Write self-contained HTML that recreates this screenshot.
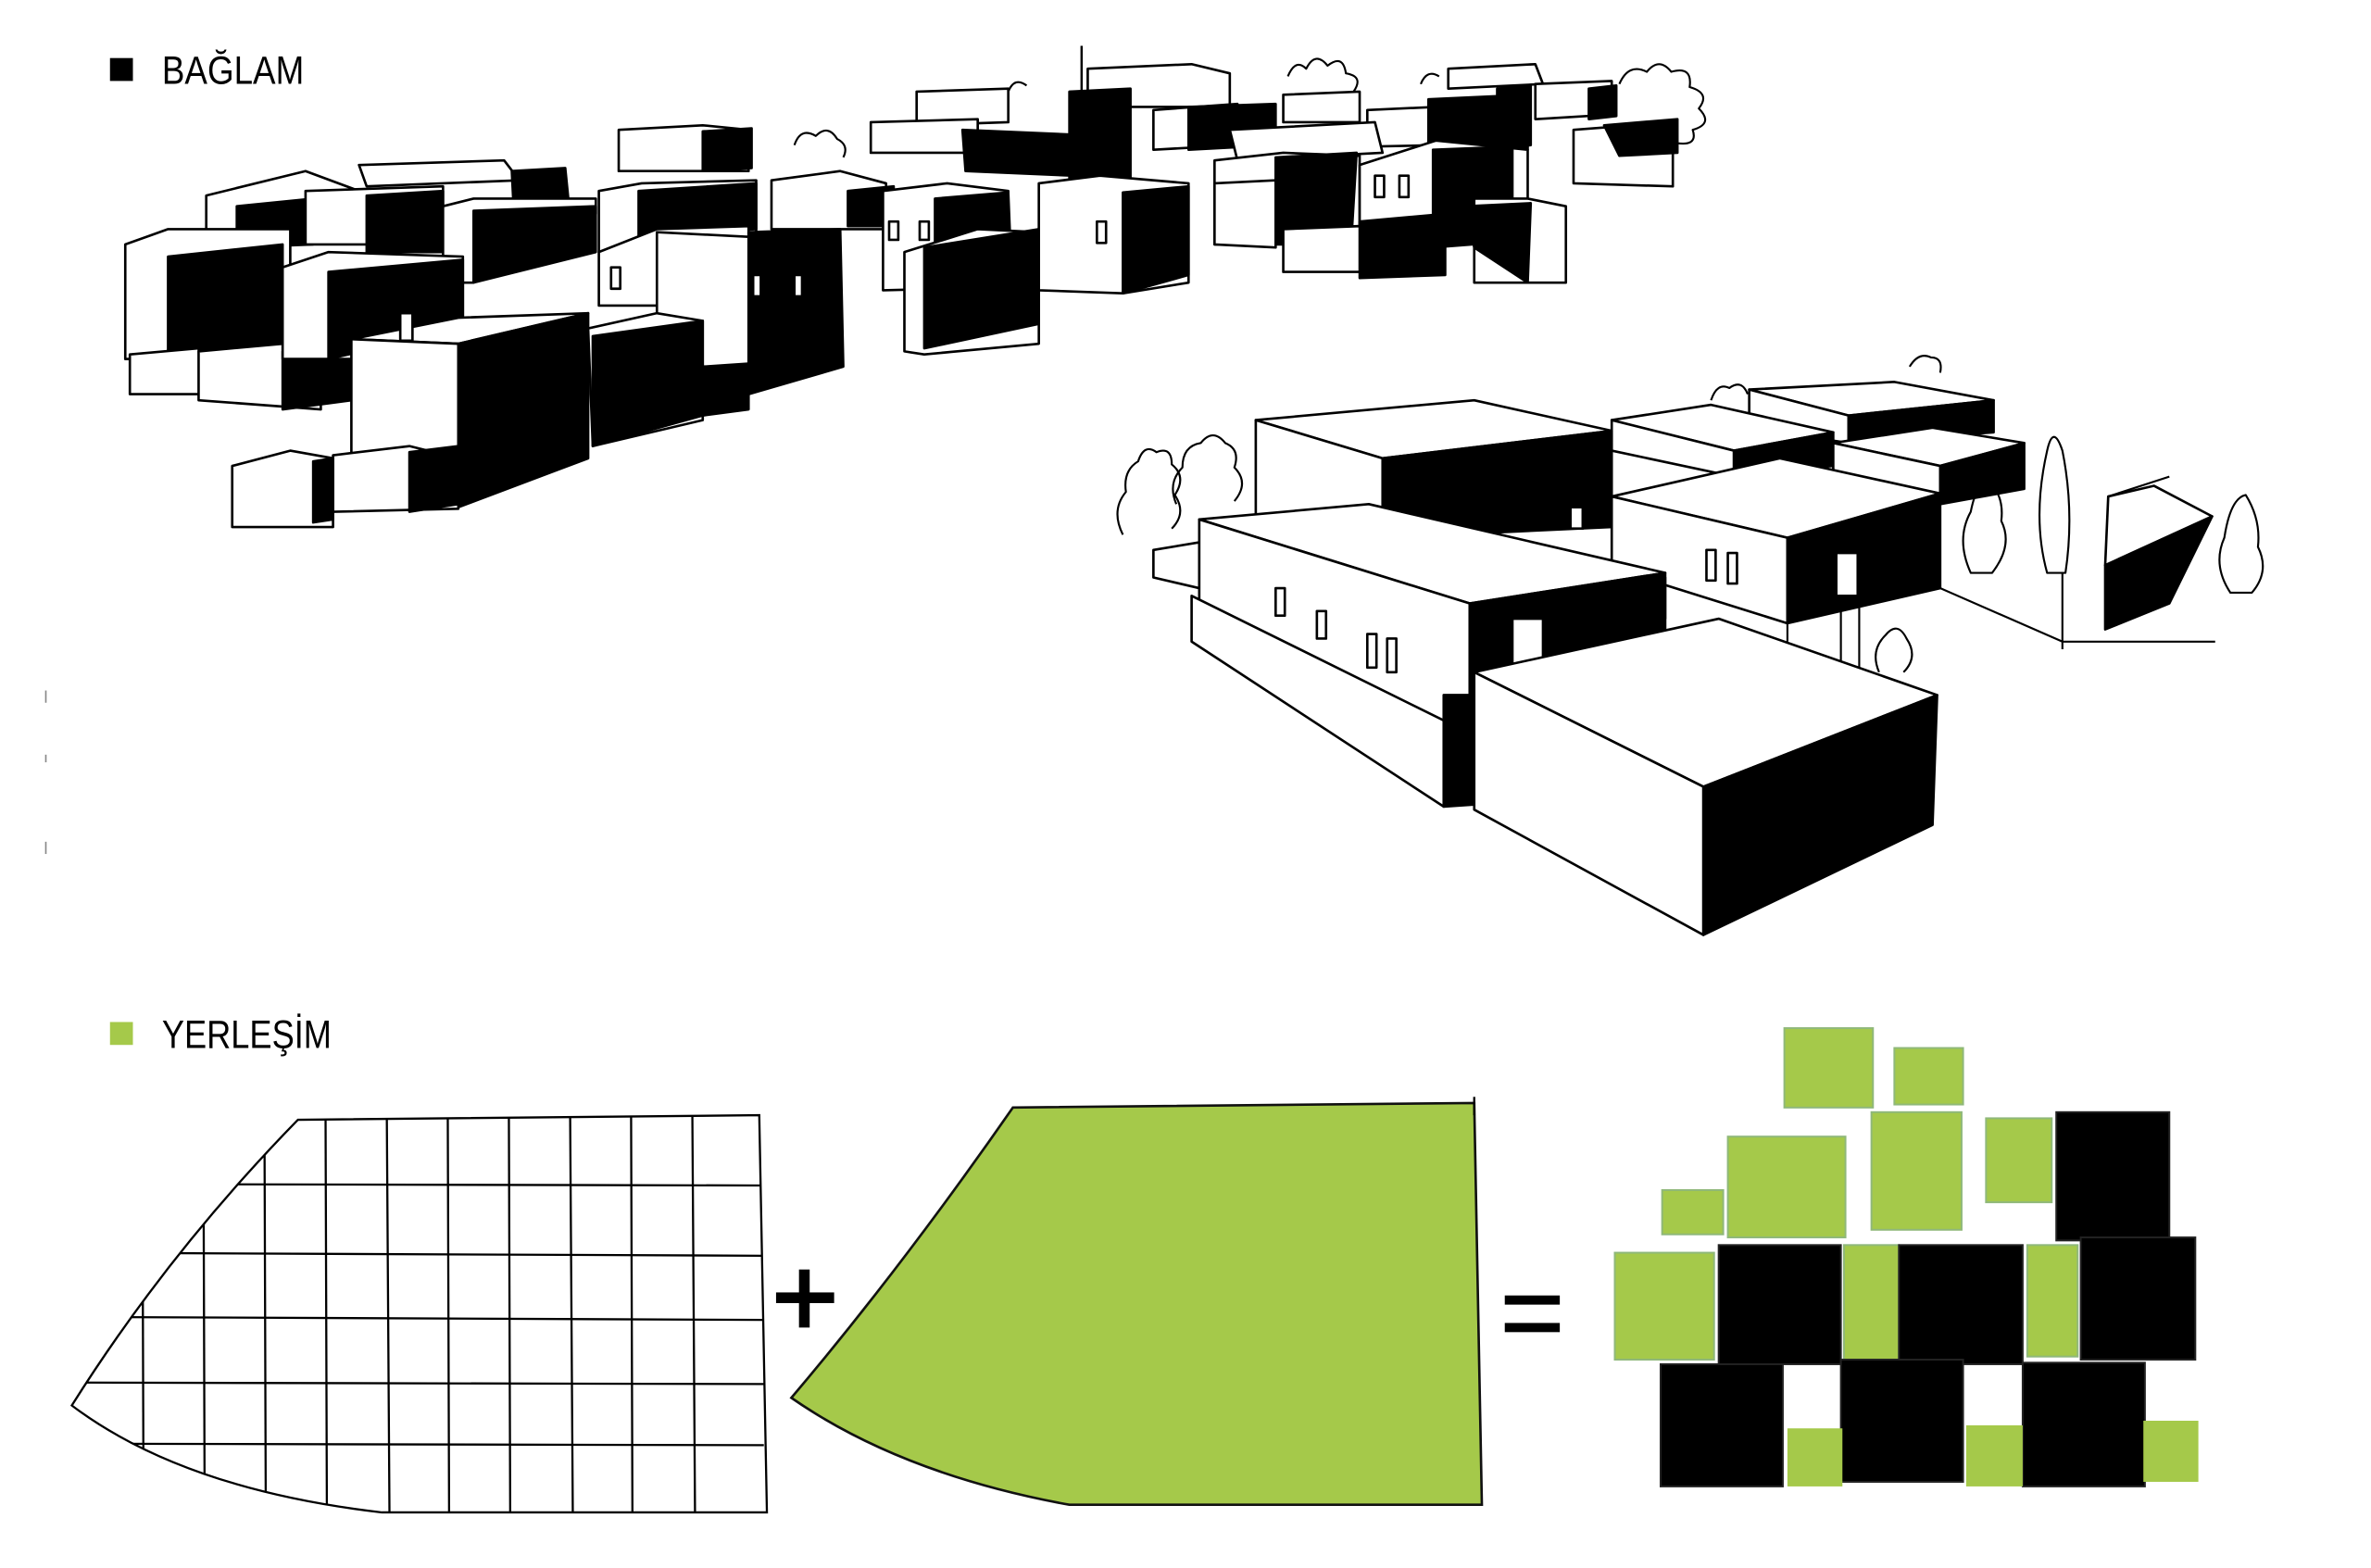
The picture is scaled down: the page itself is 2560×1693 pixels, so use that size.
<!DOCTYPE html>
<html><head><meta charset="utf-8"><style>
html,body{margin:0;padding:0;background:#fff}
svg{display:block}
.w{fill:#fff;stroke:#000;stroke-width:1.6;stroke-linejoin:round}
.b{fill:#000;stroke:#000;stroke-width:1.6;stroke-linejoin:round}
.l{fill:none;stroke:#000;stroke-width:1.3;stroke-linejoin:round}
.g{fill:#a5c94a}
.gs{fill:#a5c94a;stroke:#8fb87a;stroke-width:1.2}
.k{fill:#000;stroke:#222;stroke-width:1.2}
</style></head><body>
<svg width="2560" height="1693" viewBox="0 0 1552 1026.4" preserveAspectRatio="none" xmlns="http://www.w3.org/2000/svg">
<rect x="0" y="0" width="1552" height="1027" fill="#fff"/>
<!-- headers -->
<rect x="72" y="38" width="15" height="15" fill="#000"/>
<text x="106" y="55" font-family="Liberation Sans, sans-serif" font-size="26" textLength="93" lengthAdjust="spacingAndGlyphs" fill="#000">BAĞLAM</text>
<rect x="72" y="669" width="15" height="15" fill="#a5c94a"/>
<text x="106" y="686" font-family="Liberation Sans, sans-serif" font-size="26" textLength="111" lengthAdjust="spacingAndGlyphs" fill="#000">YERLEŞİM</text>
<line x1="30" y1="452" x2="30" y2="460" stroke="#888" stroke-width="1"/>
<line x1="30" y1="494" x2="30" y2="499" stroke="#888" stroke-width="1"/>
<line x1="30" y1="551" x2="30" y2="559" stroke="#888" stroke-width="1"/>

<!-- ========== TOP CLUSTER ========== -->
<!-- background row -->
<path class="l" d="M843,50 q5,-12 12,-5 q6,-12 14,-2 q10,-8 12,5 q12,2 5,12 q8,8 -4,14 q4,10 -10,8 M1060,55 q6,-14 18,-8 q8,-10 16,0 q14,-4 12,10 q14,4 6,14 q10,10 -4,14 q4,12 -14,8 q-4,10 -16,4 M520,95 q4,-12 14,-6 q8,-8 14,2 q8,4 4,12 M930,55 q4,-10 12,-5 M660,60 q4,-10 12,-4"/>
<polygon class="w" points="712,45 780,42 805,48 805,70 712,70"/>
<polygon class="w" points="948,45 1005,42 1010,55 948,58"/>
<polygon class="b" points="980,58 1002,56 1002,95 980,98"/>
<polygon class="w" points="1005,55 1055,53 1055,75 1005,78"/>
<polygon class="b" points="1040,58 1058,56 1058,76 1040,78"/>
<polygon class="w" points="1030,85 1095,80 1095,122 1030,120"/>
<polygon class="b" points="1050,82 1098,78 1098,100 1060,102"/>
<polygon class="w" points="600,60 660,58 660,80 600,82"/>
<polygon class="w" points="570,80 640,78 640,100 570,100"/>
<polygon class="b" points="630,85 700,88 702,115 632,112"/>
<polygon class="b" points="700,60 740,58 740,118 700,118"/>
<line x1="708" y1="30" x2="708" y2="62" stroke="#000" stroke-width="1.5"/>
<polygon class="w" points="755,72 810,68 810,95 755,98"/>
<polygon class="b" points="778,70 835,68 835,95 778,98"/>
<polygon class="w" points="840,62 890,60 890,80 840,80"/>
<polygon class="w" points="895,72 940,70 940,95 895,96"/>
<polygon class="b" points="935,65 1000,62 1000,98 935,100"/>
<polygon class="w" points="805,85 900,80 905,100 810,105"/>
<!-- middle row -->
<polygon class="w" points="405,85 460,82 490,85 490,112 405,112"/>
<polygon class="b" points="460,86 492,84 492,110 460,112"/>
<polygon class="w" points="135,128 200,112 235,125 235,152 135,152"/>
<polygon class="w" points="235,108 330,105 340,118 240,122"/>
<polygon class="b" points="155,135 205,130 205,160 155,162"/>
<polygon class="b" points="335,112 370,110 372,130 336,132"/>
<polygon class="w" points="200,125 290,122 290,160 200,160"/>
<polygon class="b" points="240,128 290,125 290,165 240,165"/>
<polygon class="w" points="290,135 310,130 390,130 390,140 310,140 310,185 290,185"/>
<polygon class="b" points="310,138 390,135 390,165 310,185"/>
<polygon class="w" points="392,125 420,120 495,118 495,160 392,165"/>
<polygon class="b" points="418,125 495,120 495,150 418,155"/>
<polygon class="w" points="505,118 550,112 580,120 580,150 505,150"/>
<polygon class="b" points="555,125 585,122 585,148 555,148"/>
<polygon class="w" points="578,125 620,120 660,125 660,188 578,190"/>
<polygon class="b" points="612,130 660,126 662,176 612,186"/>
<rect class="w" x="582" y="145" width="6" height="12"/><rect class="w" x="602" y="145" width="6" height="12"/>
<polygon class="w" points="680,120 720,115 778,120 778,185 735,192 680,190"/>
<polygon class="b" points="735,126 778,122 778,180 735,192"/>
<rect class="w" x="718" y="145" width="6" height="14"/>
<polygon class="w" points="795,105 840,100 890,102 890,160 795,160"/>
<polygon class="b" points="835,103 888,100 885,150 835,160"/>
<polygon class="w" points="890,108 940,92 1000,98 1000,150 890,150"/>
<polygon class="b" points="938,98 990,96 990,158 938,162"/>
<rect class="w" x="900" y="115" width="6" height="14"/><rect class="w" x="916" y="115" width="6" height="14"/>
<polygon class="b" points="890,145 946,140 946,180 890,182"/>
<polygon class="w" points="965,130 1000,130 1025,135 1025,185 965,185"/>
<polygon class="b" points="960,135 1002,133 1000,185 965,162"/>
<polygon class="w" points="840,150 890,148 890,178 840,178"/>
<polygon class="w" points="795,120 835,118 835,162 795,160"/>
<!-- front row -->
<polygon class="w" points="82,160 110,150 190,150 190,235 82,235"/>
<polygon class="b" points="110,168 185,160 185,228 110,232"/>
<polygon class="w" points="85,232 130,228 132,258 85,258"/>
<polygon class="w" points="130,230 185,225 210,232 210,268 130,262"/>
<polygon class="b" points="185,230 230,228 230,262 185,268"/>
<polygon class="w" points="185,175 215,165 303,168 303,235 185,235"/>
<polygon class="b" points="215,178 303,170 303,215 215,235"/>
<polygon class="w" points="392,165 430,150 490,148 490,200 392,200"/>
<polygon class="b" points="490,152 550,150 552,240 490,258"/>
<polygon class="w" points="430,152 490,155 490,258 430,258"/>
<rect class="w" x="400" y="175" width="6" height="14"/>
<rect class="w" x="493" y="180" width="5" height="14"/><rect class="w" x="520" y="180" width="5" height="14"/>
<polygon class="w" points="592,165 640,150 680,152 680,225 605,232 592,230"/>
<polygon class="b" points="605,162 680,150 680,212 605,228"/>
<polygon class="w" points="230,222 300,208 385,205 300,225"/>
<polygon class="w" points="230,222 300,225 300,300 230,300"/>
<polygon class="b" points="300,225 385,205 385,300 300,332"/>
<rect class="w" x="262" y="205" width="8" height="18"/>
<polygon class="w" points="385,215 430,205 460,210 460,275 388,292"/>
<polygon class="b" points="388,220 460,210 460,272 388,292"/>
<polygon class="b" points="460,240 490,238 490,268 460,272"/>
<polygon class="w" points="218,298 268,292 300,300 300,333 218,335"/>
<polygon class="b" points="268,296 300,292 300,330 268,335"/>
<polygon class="w" points="152,305 190,295 218,300 218,345 152,345"/>
<polygon class="b" points="205,302 218,300 218,340 205,342"/>

<!-- ========== LOWER RIGHT CLUSTER ========== -->
<path class="l" d="M735,350 q-8,-16 2,-28 q-2,-14 8,-20 q4,-12 12,-6 q10,-4 10,8 q10,8 2,20 q8,12 -2,22 M770,330 q-6,-14 4,-24 q0,-14 12,-16 q8,-10 16,0 q10,4 6,16 q10,10 0,22 M1120,262 q4,-12 12,-8 q8,-6 12,4 M1250,240 q6,-10 14,-6 q8,0 6,10 M1290,375 q-10,-22 0,-40 q4,-20 12,-20 q10,10 8,26 q8,16 -6,34 z M1340,375 q-10,-36 0,-80 q4,-18 10,0 q8,40 2,80 z M1350,375 L1350,425 M1460,388 q-12,-18 -4,-36 q4,-26 14,-28 q10,16 8,34 q8,16 -4,30 z M1380,325 L1420,312 M1075,360 q-8,-12 2,-22 q4,-12 12,-6 q6,8 2,18 q6,10 -4,16 M1230,440 q-6,-14 4,-24 q8,-10 14,2 q8,12 -2,22"/>
<polyline class="l" points="1270,385 1350,420 1450,420"/>
<!-- back boxes -->
<polygon class="w" points="1145,255 1240,250 1305,262 1210,272"/>
<polygon class="w" points="1145,255 1210,272 1210,290 1145,280"/>
<polygon class="b" points="1210,272 1305,262 1305,283 1210,290"/>
<polygon class="w" points="1055,275 1120,265 1200,283 1135,295"/>
<polygon class="w" points="1055,275 1135,295 1135,312 1055,295"/>
<polygon class="b" points="1135,295 1200,283 1200,305 1135,312"/>
<polygon class="w" points="1200,290 1265,280 1325,290 1270,305"/>
<polygon class="b" points="1270,305 1325,290 1325,320 1270,330"/>
<polygon class="w" points="1200,290 1270,305 1270,330 1200,318"/>
<!-- box A -->
<polygon class="w" points="822,275 965,262 1055,282 905,300"/>
<polygon class="w" points="822,275 905,300 905,355 822,340"/>
<polygon class="b" points="905,300 1055,282 1055,345 905,352"/>
<rect class="w" x="1028" y="332" width="8" height="14"/>
<!-- box D -->
<polygon class="w" points="1055,325 1165,300 1270,323 1170,352"/>
<polygon class="w" points="1055,325 1170,352 1170,408 1055,372"/>
<polygon class="b" points="1170,352 1270,323 1270,385 1170,408"/>
<rect class="w" x="1202" y="362" width="14" height="28"/>
<rect class="w" x="1117" y="360" width="6" height="20"/><rect class="w" x="1131" y="362" width="6" height="20"/>
<polyline class="l" points="1170,408 1170,420 M1200,410 1200,420"/>
<line x1="1205" y1="395" x2="1205" y2="440" stroke="#000" stroke-width="1.3"/>
<line x1="1217" y1="395" x2="1217" y2="445" stroke="#000" stroke-width="1.3"/>
<!-- right black building -->
<polygon class="w" points="1380,325 1410,318 1448,338 1378,370"/>
<polygon class="b" points="1378,370 1448,338 1420,395 1378,412"/>
<!-- box B -->
<polygon class="w" points="755,360 785,355 785,385 755,378"/>
<polygon class="w" points="785,340 896,330 1090,375 962,395"/>
<polygon class="w" points="785,340 962,395 962,490 785,405"/>
<polygon class="w" points="780,390 962,480 945,528 780,420"/>
<polygon class="b" points="962,395 1090,375 1090,405 1010,415 1010,440 990,442 990,525 945,528 945,455 962,455"/>
<polygon class="b" points="1010,400 1090,378 1090,430 1010,445"/>
<rect class="w" x="990" y="405" width="20" height="38"/>
<rect class="w" x="835" y="385" width="6" height="18"/><rect class="w" x="862" y="400" width="6" height="18"/>
<rect class="w" x="895" y="415" width="6" height="22"/><rect class="w" x="908" y="418" width="6" height="22"/>
<!-- box C -->
<polygon class="w" points="965,440 1125,405 1268,455 1115,515"/>
<polygon class="w" points="965,440 1115,515 1115,612 965,530"/>
<polygon class="b" points="1115,515 1268,455 1265,540 1115,612"/>

<!-- ========== GRID ========== -->
<defs>
<clipPath id="gc"><path d="M195,733 L497,730 L502,990 L250,990 Q120,975 47,920 Q110,820 195,733 Z"/></clipPath>
</defs>
<g clip-path="url(#gc)" stroke="#000" stroke-width="1.4" fill="none">
<path d="M93,700 L94,1000 M133,700 L134,1000 M173,700 L174,1000 M213,700 L214,1000 M253,700 L255,1000 M293,700 L294,1000 M333,700 L334,1000 M373,700 L375,1000 M413,700 L414,1000 M453,700 L455,1000"/>
<path d="M40,775 L500,776 M40,820 L500,822 M40,862 L500,864 M40,905 L500,906 M40,945 L500,946"/>
</g>
<path d="M195,733 L497,730 L502,990 L250,990 Q120,975 47,920 Q110,820 195,733 Z" fill="none" stroke="#000" stroke-width="1.4"/>
<!-- plus -->
<rect x="508" y="846" width="38" height="7" fill="#000"/>
<rect x="523" y="831" width="7" height="38" fill="#000"/>
<!-- green shape -->
<path d="M663,725 L965,722 L970,985 L700,985 Q590,965 518,915 Q590,830 663,725 Z" fill="#a5c94a" stroke="#111" stroke-width="1.6"/>
<line x1="965" y1="718" x2="965" y2="730" stroke="#000" stroke-width="1.4"/>
<!-- equals -->
<rect x="985" y="848" width="36" height="6" fill="#000"/>
<rect x="985" y="866" width="36" height="6" fill="#000"/>

<!-- ========== BLOCK COMPOSITION ========== -->
<rect class="gs" x="1168" y="673" width="58" height="52"/>
<rect class="gs" x="1240" y="686" width="45" height="37"/>
<rect class="gs" x="1225" y="728" width="59" height="77"/>
<rect class="gs" x="1300" y="732" width="43" height="55"/>
<rect class="gs" x="1131" y="744" width="77" height="66"/>
<rect class="gs" x="1088" y="779" width="40" height="29"/>
<rect class="k" x="1346" y="728" width="74" height="84"/>
<rect class="gs" x="1057" y="820" width="65" height="70"/>
<rect class="k" x="1125" y="815" width="80" height="78"/>
<rect class="gs" x="1207" y="815" width="36" height="75"/>
<rect class="k" x="1243" y="815" width="81" height="78"/>
<rect class="gs" x="1327" y="815" width="33" height="73"/>
<rect class="k" x="1362" y="810" width="75" height="80"/>
<rect class="k" x="1087" y="893" width="80" height="80"/>
<rect class="k" x="1205" y="890" width="80" height="80"/>
<rect class="k" x="1324" y="892" width="80" height="81"/>
<rect class="g" x="1170" y="935" width="36" height="38"/>
<rect class="g" x="1287" y="933" width="37" height="40"/>
<rect class="g" x="1403" y="930" width="36" height="40"/>
</svg>
</body></html>
